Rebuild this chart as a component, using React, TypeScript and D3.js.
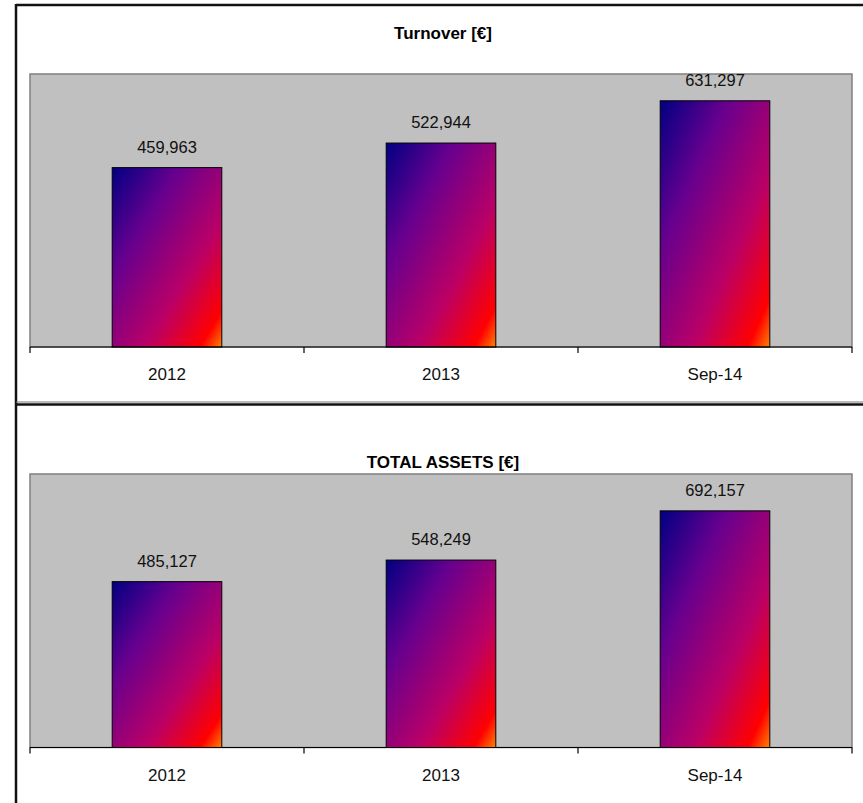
import React from "react";
import * as d3 from "d3";

const categories = ["2012", "2013", "Sep-14"];
const turnover = [459963, 522944, 631297];
const totalAssets = [485127, 548249, 692157];
const titles = ["Turnover [€]", "TOTAL ASSETS [€]"];
const axisMax = [700000, 800000];

const W = 863;
const H = 803;
const FONT = "'Liberation Sans', Arial, sans-serif";

type PanelProps = {
  id: string;
  title: string;
  values: number[];
  max: number;
  titleY: number;
  plotTop: number;
  plotBottom: number;
  labelY: number;
};

function Panel({ id, title, values, max, titleY, plotTop, plotBottom, labelY }: PanelProps) {
  const plotLeft = 30;
  const plotRight = 852;
  const x = d3
    .scaleBand<string>()
    .domain(categories)
    .range([plotLeft, plotRight])
    .paddingInner(0.6)
    .paddingOuter(0.3);
  const y = d3.scaleLinear().domain([0, max]).range([plotBottom, plotTop]);
  const step = x.step();
  const boundaries = d3.range(categories.length + 1).map((i) => plotLeft + i * step);
  const fmt = d3.format(",");
  return (
    <g>
      <text
        x={443}
        y={titleY}
        textAnchor="middle"
        fontFamily={FONT}
        fontWeight="bold"
        fontSize={17}
        fill="#000"
      >
        {title}
      </text>
      <rect
        x={plotLeft}
        y={plotTop}
        width={plotRight - plotLeft}
        height={plotBottom - plotTop}
        fill="#c0c0c0"
        stroke="#808080"
        strokeWidth={1.5}
      />
      {values.map((v, i) => {
        const bx = x(categories[i])!;
        const by = y(v);
        return (
          <g key={i}>
            <rect
              x={bx}
              y={by}
              width={x.bandwidth()}
              height={plotBottom - by}
              fill={`url(#grad-${id})`}
              stroke="#000"
              strokeWidth={1}
            />
            <text
              x={bx + x.bandwidth() / 2}
              y={by - 15}
              textAnchor="middle"
              fontFamily={FONT}
              fontSize={16.5}
              fill="#111"
            >
              {fmt(v)}
            </text>
          </g>
        );
      })}
      <line
        x1={plotLeft}
        x2={plotRight}
        y1={plotBottom}
        y2={plotBottom}
        stroke="#000"
        strokeWidth={1.2}
      />
      {boundaries.map((bx, i) => (
        <line
          key={i}
          x1={bx}
          x2={bx}
          y1={plotBottom}
          y2={plotBottom + 6}
          stroke="#000"
          strokeWidth={1.2}
        />
      ))}
      {categories.map((c) => (
        <text
          key={c}
          x={x(c)! + x.bandwidth() / 2}
          y={labelY}
          textAnchor="middle"
          fontFamily={FONT}
          fontSize={17}
          fill="#111"
        >
          {c}
        </text>
      ))}
    </g>
  );
}

export default function App() {
  const stops = [
    { o: 0, c: "#000082" },
    { o: 0.3, c: "#66008f" },
    { o: 0.65, c: "#ba0066" },
    { o: 0.9, c: "#ff0000" },
    { o: 1, c: "#ff8200" },
  ];
  return (
    <svg
      width={W}
      height={H}
      style={{ position: "absolute", left: 0, top: 0, background: "#fff" }}
    >
      <defs>
        {["a", "b"].map((id) => (
          <linearGradient key={id} id={`grad-${id}`} x1="0" y1="0" x2="1" y2="1">
            {stops.map((s, i) => (
              <stop key={i} offset={s.o} stopColor={s.c} />
            ))}
          </linearGradient>
        ))}
      </defs>
      <rect x={0} y={0} width={W} height={H} fill="#fff" />
      <line x1={16} x2={W} y1={5} y2={5} stroke="#111" strokeWidth={2.5} />
      <line x1={16} x2={16} y1={4} y2={H} stroke="#111" strokeWidth={2.5} />
      <line x1={16} x2={W} y1={402} y2={402} stroke="#777" strokeWidth={1} />
      <line x1={16} x2={W} y1={404.5} y2={404.5} stroke="#111" strokeWidth={2.5} />
      <Panel
        id="a"
        title={titles[0]}
        values={turnover}
        max={axisMax[0]}
        titleY={39}
        plotTop={74}
        plotBottom={347}
        labelY={380}
      />
      <Panel
        id="b"
        title={titles[1]}
        values={totalAssets}
        max={axisMax[1]}
        titleY={468}
        plotTop={474}
        plotBottom={747.5}
        labelY={781}
      />
    </svg>
  );
}
